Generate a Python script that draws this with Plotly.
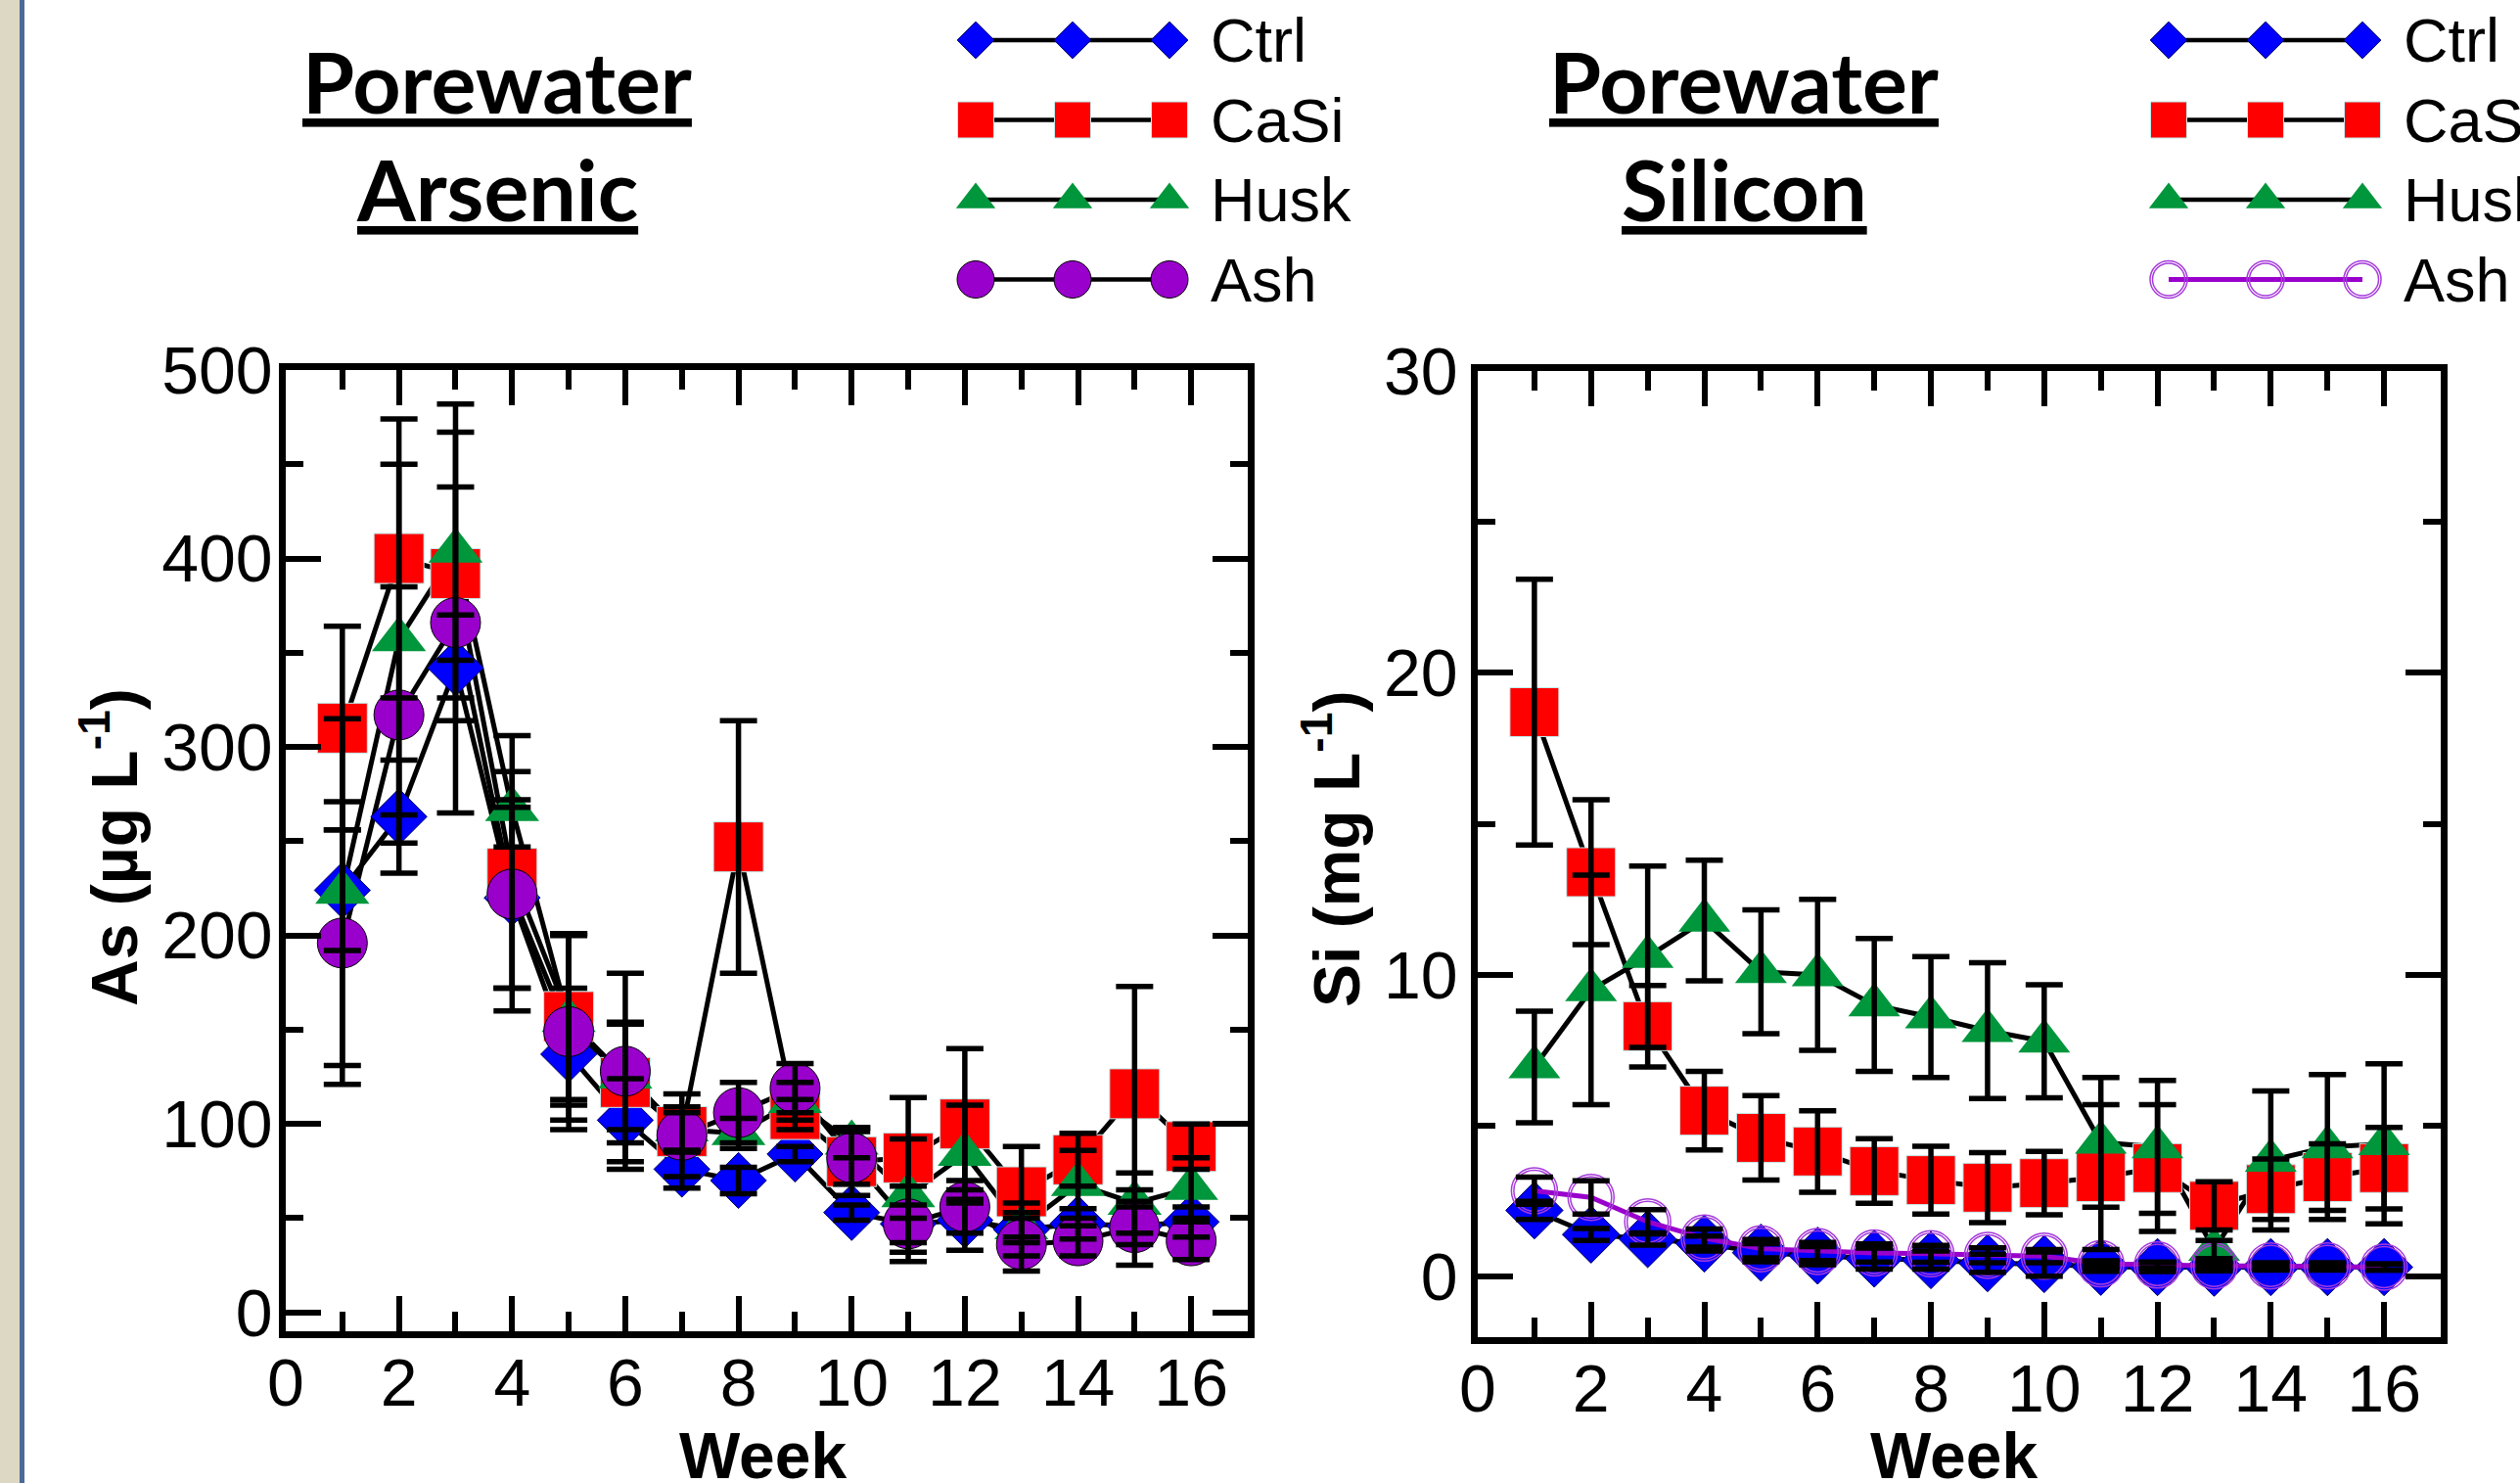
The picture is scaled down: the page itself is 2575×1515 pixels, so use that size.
import plotly.graph_objects as go

# ---------------- data ----------------
weeks = list(range(1, 17))

# Porewater arsenic (ug/L)
as_ctrl = [224, 263, 342, 220, 137, 102, 76, 70, 84, 53, 47, 49, 44, 47, 46, 48]
as_ctrl_err = [32, 30, 28, 48, 35, 22, 10, 7, 4, 4, 10, 16, 14, 8, 10, 8]
as_casi = [310, 400, 392, 233, 157, 122, 96, 247, 105, 80, 82, 100, 64, 81, 116, 88]
as_casi_err = [54, 74, 46, 73, 44, 32, 10, 67, 8, 18, 32, 40, 24, 14, 57, 12]
as_husk = [223, 357, 404, 267, 155, 125, 97, 95, 112, 90, 62, 84, 45, 68, 58, 66]
as_husk_err = [92, 93, 78, 20, 45, 28, 12, 8, 10, 8, 30, 26, 8, 18, 16, 16]
as_ash = [196, 317, 366, 222, 149, 128, 94, 106, 119, 82, 47, 56, 36, 38, 45, 38]
as_ash_err = [75, 68, 101, 50, 52, 52, 22, 16, 13, 14, 20, 14, 14, 8, 20, 10]

# Porewater silicon (mg/L)
si_ctrl = [2.2, 1.4, 1.25, 1.1, 0.8, 0.7, 0.6, 0.55, 0.45, 0.42, 0.33, 0.32, 0.3, 0.32, 0.32, 0.32]
si_ctrl_err = [0.3, 0.2, 0.2, 0.25, 0.3, 0.3, 0.35, 0.3, 0.3, 0.4, 0.15, 0.15, 0.1, 0.1, 0.1, 0.1]
si_casi = [18.7, 13.4, 8.3, 5.5, 4.6, 4.15, 3.5, 3.2, 2.95, 3.1, 3.3, 3.6, 2.35, 2.9, 3.3, 3.6]
si_casi_err = [4.4, 2.4, 1.35, 1.3, 1.4, 1.35, 1.07, 1.12, 1.16, 1.05, 2.4, 2.1, 0.8, 1.0, 1.1, 1.35]
si_husk = [6.95, 9.5, 10.6, 11.8, 10.1, 10.0, 9.0, 8.6, 8.15, 7.8, 4.45, 4.3, 0.9, 3.85, 4.3, 4.4]
si_husk_err = [1.85, 3.8, 3.0, 2.0, 2.05, 2.5, 2.2, 2.0, 2.25, 1.87, 2.15, 2.2, 0.3, 2.3, 2.4, 2.65]
si_ash = [2.85, 2.63, 1.82, 1.28, 0.93, 0.84, 0.79, 0.76, 0.71, 0.68, 0.43, 0.39, 0.36, 0.36, 0.36, 0.32]
si_ash_err = [0.45, 0.55, 0.4, 0.3, 0.3, 0.3, 0.3, 0.28, 0.25, 0.22, 0.1, 0.1, 0.1, 0.1, 0.1, 0.1]

series_names = ["Ctrl", "CaSi", "Husk", "Ash"]
x_ticks = [0, 2, 4, 6, 8, 10, 12, 14, 16]

# ---------------- layout constants ----------------
W, H = 2575, 1515
BLUE, RED, GREEN, PURPLE = "#0000FF", "#FF0000", "#00963C", "#9900CC"
ASH_RING = "#A63BDB"
LW = 5
ERR_T, ERR_W = 5.5, 19
TICK_FONT = dict(family="Liberation Sans, Arial, sans-serif", size=68, color="black")
LAB_FONT = dict(family="Liberation Sans, Arial, sans-serif", size=66, color="black")
TITLE_FONT = dict(family="Lato, Carlito, sans-serif", size=86, color="black")
LEG_FONT = dict(family="Liberation Sans, Arial, sans-serif", size=63, color="black")


def fx(p):
    return p / W


def fy(p):
    return 1 - p / H


mk = {
    "Ctrl": dict(symbol="diamond", color=BLUE, line=dict(color="#000060", width=1)),
    "CaSi": dict(symbol="square", color=RED, line=dict(color="#BFEFEF", width=1)),
    "Husk": dict(symbol="triangle-up", color=GREEN, line=dict(width=0)),
    "Ash": dict(symbol="circle", color=PURPLE, line=dict(color="black", width=1)),
}
size_as = {"Ctrl": 44, "CaSi": 51, "Husk": 48, "Ash": 51}
size_si = {"Ctrl": 45, "CaSi": 50, "Husk": 46, "Ash": 47}

fig = go.Figure()

# ---------------- Arsenic panel ----------------
as_vals = {"Ctrl": as_ctrl, "CaSi": as_casi, "Husk": as_husk, "Ash": as_ash}
as_errs = {"Ctrl": as_ctrl_err, "CaSi": as_casi_err, "Husk": as_husk_err, "Ash": as_ash_err}
for n in series_names:
    fig.add_trace(go.Scatter(x=weeks, y=as_vals[n], mode="lines",
                             line=dict(color="black", width=LW), xaxis="x", yaxis="y"))
for n in series_names:
    fig.add_trace(go.Scatter(x=weeks, y=as_vals[n], mode="markers",
                             marker=dict(size=size_as[n], **mk[n]), xaxis="x", yaxis="y"))
for n in series_names:
    fig.add_trace(go.Scatter(x=weeks, y=as_vals[n], mode="markers",
                             marker=dict(size=0, opacity=0),
                             error_y=dict(type="data", array=as_errs[n], color="black",
                                          thickness=ERR_T, width=ERR_W),
                             xaxis="x", yaxis="y"))

# ---------------- Silicon panel ----------------
si_vals = {"Ctrl": si_ctrl, "CaSi": si_casi, "Husk": si_husk, "Ash": si_ash}
si_errs = {"Ctrl": si_ctrl_err, "CaSi": si_casi_err, "Husk": si_husk_err, "Ash": si_ash_err}
for n in ["CaSi", "Ctrl", "Husk"]:
    fig.add_trace(go.Scatter(x=weeks, y=si_vals[n], mode="lines",
                             line=dict(color="black", width=LW), xaxis="x2", yaxis="y2"))
for n in ["CaSi", "Ctrl", "Husk"]:
    fig.add_trace(go.Scatter(x=weeks, y=si_vals[n], mode="markers",
                             marker=dict(size=size_si[n], **mk[n]), xaxis="x2", yaxis="y2"))
fig.add_trace(go.Scatter(x=weeks, y=si_ash, mode="lines",
                         line=dict(color=PURPLE, width=5), xaxis="x2", yaxis="y2"))
for s in (size_si["Ash"], size_si["Ash"] - 5):
    fig.add_trace(go.Scatter(x=weeks, y=si_ash, mode="markers",
                             marker=dict(symbol="circle-open", size=s,
                                         color=ASH_RING, line=dict(color=ASH_RING, width=1.5)),
                             xaxis="x2", yaxis="y2"))
for n in ["CaSi", "Ctrl", "Husk", "Ash"]:
    fig.add_trace(go.Scatter(x=weeks, y=si_vals[n], mode="markers",
                             marker=dict(size=0, opacity=0),
                             error_y=dict(type="data", array=si_errs[n], color="black",
                                          thickness=ERR_T, width=ERR_W),
                             xaxis="x2", yaxis="y2"))

# ---------------- legend samples (overlay pixel axis) ----------------
LEG_ROW0, LEG_GAP = 41, 81.5
LEG_DX = 99
legend_panels = [(997, 1235, False), (2216, 2454, True)]
leg_size = {"Ctrl": 29, "CaSi": 37, "Husk": 35, "Ash": 38}
for x0, tx, si_style in legend_panels:
    xs = [x0 + k * LEG_DX for k in range(3)]
    for i, n in enumerate(series_names):
        yrow = LEG_ROW0 + i * LEG_GAP
        ys = [yrow] * 3
        if si_style and n == "Ash":
            fig.add_trace(go.Scatter(x=xs, y=ys, mode="lines",
                                     line=dict(color=PURPLE, width=5),
                                     xaxis="x3", yaxis="y3"))
            for s in (38, 33):
                fig.add_trace(go.Scatter(x=xs, y=ys, mode="markers",
                                         marker=dict(symbol="circle-open", size=s, color=ASH_RING,
                                                     line=dict(color=ASH_RING, width=1.5)),
                                         xaxis="x3", yaxis="y3"))
        else:
            fig.add_trace(go.Scatter(x=xs, y=ys, mode="lines+markers",
                                     line=dict(color="black", width=4.5),
                                     marker=dict(size=leg_size[n], **mk[n]),
                                     xaxis="x3", yaxis="y3"))
        fig.add_annotation(x=fx(tx), y=fy(yrow), xref="paper", yref="paper",
                           text=n, showarrow=False, xanchor="left", yanchor="middle",
                           font=LEG_FONT)

# ---------------- axes ----------------
common = dict(showline=True, linecolor="black", linewidth=6.5, mirror="ticks",
              ticks="inside", ticklen=36, tickwidth=6, tickcolor="black",
              showgrid=False, zeroline=False, tickfont=TICK_FONT, automargin=False)
minor_x = dict(dtick=1, ticks="inside", ticklen=20, tickwidth=6, tickcolor="black", showgrid=False)

fig.update_layout(
    width=W, height=H, autosize=False,
    margin=dict(l=0, r=0, t=0, b=0, pad=0, autoexpand=False),
    paper_bgcolor="white", plot_bgcolor="rgba(0,0,0,0)", showlegend=False,
    xaxis=dict(domain=[fx(292), fx(1275)], range=[0, 17], tickvals=x_ticks,
               minor=minor_x, anchor="y", ticklabelstandoff=-12, **common),
    yaxis=dict(domain=[fy(1360), fy(378)], range=[-10, 500], tick0=0, dtick=100,
               minor=dict(dtick=50, ticks="inside", ticklen=18, tickwidth=6,
                          tickcolor="black", showgrid=False),
               anchor="x", ticklabelstandoff=-7, **common),
    xaxis2=dict(domain=[fx(1510), fx(2494)], range=[0, 17], tickvals=x_ticks,
                minor=minor_x, anchor="y2", ticklabelstandoff=-12, **common),
    yaxis2=dict(domain=[fy(1366), fy(379)], range=[-2, 30], tick0=0, dtick=10,
                minor=dict(dtick=5, ticks="inside", ticklen=18, tickwidth=6,
                           tickcolor="black", showgrid=False),
                anchor="x2", ticklabelstandoff=0, **common),
    xaxis3=dict(domain=[0, 1], range=[0, W], visible=False, anchor="y3", automargin=False),
    yaxis3=dict(domain=[0, 1], range=[H, 0], visible=False, anchor="x3", automargin=False),
)

# ---------------- titles / axis labels ----------------
for cx, word in [(508, "Arsenic"), (1782, "Silicon")]:
    fig.add_annotation(x=fx(cx), y=fy(82), xref="paper", yref="paper",
                       text="<b><u>Porewater</u></b>", showarrow=False,
                       xanchor="center", yanchor="middle", font=TITLE_FONT)
    fig.add_annotation(x=fx(cx), y=fy(193), xref="paper", yref="paper",
                       text="<b><u>" + word + "</u></b>", showarrow=False,
                       xanchor="center", yanchor="middle", font=TITLE_FONT)

fig.add_annotation(x=fx(112), y=fy(866), xref="paper", yref="paper",
                   text="<b>As (µg L<sup>-1</sup>)</b>", showarrow=False, textangle=-90,
                   xanchor="center", yanchor="middle", font=LAB_FONT)
fig.add_annotation(x=fx(1361), y=fy(868), xref="paper", yref="paper",
                   text="<b>Si (mg L<sup>-1</sup>)</b>", showarrow=False, textangle=-90,
                   xanchor="center", yanchor="middle", font=LAB_FONT)
for cx in (780, 1997):
    fig.add_annotation(x=fx(cx), y=fy(1487), xref="paper", yref="paper",
                       text="<b>Week</b>", showarrow=False,
                       xanchor="center", yanchor="middle", font=LAB_FONT)

# left border strip of the slide
fig.add_shape(type="rect", xref="paper", yref="paper", x0=0, x1=fx(20), y0=0, y1=1,
              fillcolor="#DDD8C3", line=dict(width=0), layer="below")
fig.add_shape(type="rect", xref="paper", yref="paper", x0=fx(20), x1=fx(25), y0=0, y1=1,
              fillcolor="#4A6A9A", line=dict(width=0), layer="below")

fig.write_html("out.html", config={"displayModeBar": False},
               post_script="document.body.style.margin='0';document.body.style.overflow='hidden';")
